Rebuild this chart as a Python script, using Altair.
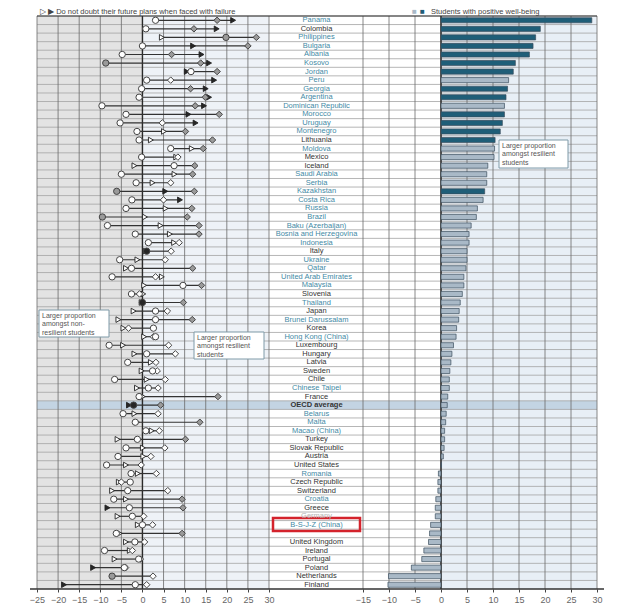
import altair as alt
import pandas as pd

countries = ["Panama", "Colombia", "Philippines", "Bulgaria", "Albania", "Kosovo", "Jordan", "Peru",
             "Georgia", "Argentina", "Dominican Republic", "Morocco", "Uruguay", "Montenegro",
             "Lithuania", "Moldova", "Mexico", "Iceland", "Saudi Arabia", "Serbia", "Kazakhstan",
             "Costa Rica", "Russia", "Brazil", "Baku (Azerbaijan)", "Bosnia and Herzegovina",
             "Indonesia", "Italy", "Ukraine", "Qatar", "United Arab Emirates", "Malaysia", "Slovenia",
             "Thailand", "Japan", "Brunei Darussalam", "Korea", "Hong Kong (China)", "Luxembourg",
             "Hungary", "Latvia", "Sweden", "Chile", "Chinese Taipei", "France", "OECD average",
             "Belarus", "Malta", "Macao (China)", "Turkey", "Slovak Republic", "Austria",
             "United States", "Romania", "Czech Republic", "Switzerland", "Croatia", "Greece",
             "Germany", "B-S-J-Z (China)", " ", "United Kingdom", "Ireland", "Portugal", "Poland",
             "Netherlands", "Finland"]

partner = ["Panama", "Philippines", "Bulgaria", "Albania", "Kosovo", "Jordan", "Peru", "Georgia",
           "Argentina", "Dominican Republic", "Morocco", "Uruguay", "Montenegro", "Moldova",
           "Saudi Arabia", "Serbia", "Kazakhstan", "Costa Rica", "Russia", "Brazil",
           "Baku (Azerbaijan)", "Bosnia and Herzegovina", "Indonesia", "Ukraine", "Qatar",
           "United Arab Emirates", "Malaysia", "Thailand", "Brunei Darussalam", "Hong Kong (China)",
           "Chinese Taipei", "Belarus", "Malta", "Macao (China)", "Romania", "Croatia",
           "B-S-J-Z (China)"]

circle_vals = [3.1, 0.8, 19.8, 0.0, -4.8, -8.7, 11.5, 1.0, -0.2, -0.8,
               -9.6, -3.9, -5.3, -1.3, -0.8, 6.7, -0.2, 7.5, -5.0, -1.5,
               -6.1, -2.5, -3.9, -9.5, -8.3, -1.7, 1.4, 1.0, -5.4, -2.6,
               -7.2, 9.6, -2.6, 0.0, 3.1, 3.1, 2.6, 3.1, -7.9, 1.0,
               -3.5, 2.4, -6.6, 1.4, -0.8, -2.1, -4.6, -1.7, 0.8, -1.2,
               -3.9, -5.8, -8.5, -2.7, -2.9, -3.5, -6.8, -3.1, -2.4, 0.0,
               -6.2, -1.8, -9.0, -0.9, -4.3, -7.2, -1.7]
circle_fill = ["w", "w", "g", "w", "w", "g", "w", "w", "w", "w",
               "w", "w", "w", "w", "w", "w", "w", "w", "w", "w",
               "g", "w", "w", "g", "w", "w", "w", "k", "w", "w",
               "w", "w", "w", "k", "w", "w", "w", "w", "w", "w",
               "w", "w", "w", "w", "w", "k", "w", "w", "w", "w",
               "w", "w", "w", "w", "w", "w", "w", "w", "w", "w",
               "w", "w", "w", "w", "w", "g", "w"]

diamond_vals = [17.7, 12.2, 27.0, 25.0, 6.9, 13.8, 17.7, 6.7, 11.4, 14.9,
                12.5, 18.2, 4.7, 10.2, 16.6, 14.4, 8.4, 12.4, 11.9, 6.7,
                12.3, 5.0, 11.7, 10.6, 13.4, 13.4, 8.7, 6.8, 5.4, 11.9,
                3.1, 14.0, -0.7, 9.7, 5.9, 11.8, -3.3, 2.6, 6.2, 7.8,
                3.2, 3.5, 5.4, 3.7, 17.9, 4.3, 3.7, 13.6, 4.0, 10.2,
                5.3, 2.0, -0.3, 3.3, -5.0, 6.0, 9.4, 9.6, 0.3, 2.4,
                9.4, 0.5, -2.4, -0.5, -4.0, 2.5, 1.0]
diamond_fill = ["g", "g", "g", "g", "g", "g", "g", "w", "g", "g",
                "g", "g", "w", "g", "g", "g", "w", "g", "g", "w",
                "g", "w", "g", "g", "g", "g", "w", "w", "w", "g",
                "w", "g", "w", "g", "w", "g", "w", "w", "w", "w",
                "w", "w", "w", "w", "g", "g", "w", "g", "w", "g",
                "w", "w", "w", "w", "w", "w", "g", "g", "w", "w",
                "g", "w", "w", "w", "w", "w", "w"]

tri_vals = [21.5, 17.6, 4.6, 12.0, 14.0, 15.8, 10.5, 17.0, 15.0, 15.8,
            14.6, 10.9, 12.6, 5.1, 2.0, 11.7, 8.0, -1.9, 7.6, 2.4,
            5.4, 8.9, 5.5, 0.6, 4.3, 6.5, 7.5, 0.8, -1.2, -3.9,
            4.6, 0.4, 0.2, -0.2, -2.1, -5.7, -4.5, 0.4, -4.6, -1.9,
            2.0, -0.2, 1.0, -1.3, 0.1, -3.2, -1.9, -1.3, 2.2, -5.9,
            0.1, 0.2, -3.9, -1.1, -5.6, -7.2, -3.9, -8.3, -5.9, -1.1,
            -5.4, -3.9, -3.0, -6.6, -11.7, -7.0, -18.6]
tri_fill = ["k", "k", "w", "k", "k", "k", "k", "k", "k", "k",
            "k", "k", "k", "w", "w", "w", "w", "w", "w", "w",
            "k", "k", "w", "w", "w", "w", "w", "w", "w", "w",
            "w", "w", "w", "w", "w", "w", "w", "w", "w", "w",
            "w", "w", "w", "w", "w", "k", "w", "w", "w", "w",
            "w", "w", "w", "w", "w", "w", "w", "k", "w", "w",
            "w", "w", "w", "w", "k", "w", "k"]

bar_vals = [29.0, 19.1, 18.2, 17.7, 17.0, 14.3, 13.9, 13.0, 12.8, 12.5,
            12.2, 12.2, 11.8, 11.4, 10.4, 10.3, 10.2, 9.0, 8.8, 8.8,
            8.4, 8.1, 7.0, 6.8, 5.8, 5.4, 5.4, 5.0, 5.0, 4.8,
            4.4, 4.4, 4.1, 3.7, 3.5, 3.4, 3.0, 2.9, 2.4, 2.1,
            1.9, 1.7, 1.6, 1.6, 1.3, 1.2, 1.0, 0.9, 0.7, 0.7,
            0.6, 0.45, 0.1, -0.5, -0.6, -0.6, -1.0, -1.1, -1.1, -2.0,
            -2.2, -2.4, -3.3, -3.7, -5.7, -10.1, -10.2]
bar_sig = ["dark"] * 7 + ["light", "dark", "dark", "light", "dark", "dark", "dark", "dark",
                          "light", "light", "light", "light", "light", "dark"] + ["light"] * 46

left_ticks = list(range(-25, 31, 5))
right_ticks = list(range(-15, 31, 5))

annotations_text = [
    ["Larger proportion", "amongst non-", "resilient students"],
    ["Larger proportion", "amongst resilient", "students"],
    ["Larger proportion", "amongst resilient", "students"],
]

# ---------------------------------------------------------------- build
df = pd.DataFrame({
    "country": countries, "circle": circle_vals, "cfill": circle_fill,
    "diamond": diamond_vals, "dfill": diamond_fill, "tri": tri_vals, "tfill": tri_fill,
    "bar": bar_vals, "bfill": bar_sig,
})
df["lo"] = df[["circle", "diamond", "tri"]].min(axis=1)
df["hi"] = df[["circle", "diamond", "tri"]].max(axis=1)

FONT = "Liberation Sans Narrow, Liberation Sans, Arial, sans-serif"
W, H = 560, 573
LABEL_X = 279

xL = alt.Scale(domain=[-25, 30], range=[0, 232], nice=False, zero=False)
xR = alt.Scale(domain=[-15, 30], range=[326, 560], nice=False, zero=False)

teal_js = "[" + ",".join("'%s'" % c for c in partner) + "]"
y_axis = alt.Axis(
    orient="left", offset=-LABEL_X, domain=False, ticks=False, grid=False, title=None,
    labelAlign="center", labelBaseline="middle", labelPadding=0, labelFontSize=7.5,
    labelFont=FONT, labelLimit=0, labelOverlap=False, zindex=1,
    labelColor={"expr": "datum.value == 'Germany' ? '#b3b3b3' : (indexof(" + teal_js +
                ", datum.value) >= 0 ? '#3f8aa5' : '#333333')"},
    labelFontWeight={"expr": "datum.value == 'OECD average' ? 'bold' : 'normal'"},
)
y_scale = alt.Scale(domain=countries, paddingInner=0, paddingOuter=0)


def Y(**kw):
    return alt.Y("country:N", scale=y_scale, axis=y_axis, **kw)


fill_scale = alt.Scale(domain=["w", "g", "k", "dark", "light"],
                       range=["#ffffff", "#9a9a9a", "#262626", "#1f5e78", "#a9b9c7"])

axis_common = dict(orient="bottom", grid=False, domain=False, ticks=True, tickSize=3,
                   tickColor="#444", labelFontSize=9, labelColor="#666", labelFont=FONT,
                   title=None, labelPadding=3, labelOverlap=False, labelFlush=False)

# backgrounds
bgL = alt.Chart(pd.DataFrame({"x": [-25, 0], "x2": [0, 30], "c": ["#e3e3e3", "#eef2f7"]})).mark_rect().encode(
    x=alt.X("x:Q", scale=xL, axis=alt.Axis(values=left_ticks, **axis_common)),
    x2="x2:Q", y=alt.value(0), y2=alt.value(H), color=alt.Color("c:N", scale=None))
bgR = alt.Chart(pd.DataFrame({"x": [0], "x2": [30], "c": ["#e8eff6"]})).mark_rect().encode(
    x=alt.X("x:Q", scale=xR, axis=alt.Axis(values=right_ticks, **axis_common)),
    x2="x2:Q", y=alt.value(0), y2=alt.value(H), color=alt.Color("c:N", scale=None))

oecd_band = alt.Chart(df[df.country == "OECD average"]).mark_rect(color="#c3d4e3").encode(
    y=Y(), x=alt.value(0), x2=alt.value(W))

row_lines = alt.Chart(df).mark_rule(color="#a3a3a3", strokeWidth=0.8).encode(
    y=Y(bandPosition=0), x=alt.value(0), x2=alt.value(W))

gridL = alt.Chart(pd.DataFrame({"v": left_ticks})).mark_rule(color="#6a6a6a", strokeWidth=0.8).encode(
    x=alt.X("v:Q", scale=xL, axis=None), y=alt.value(0), y2=alt.value(H))
gridR = alt.Chart(pd.DataFrame({"v": right_ticks})).mark_rule(color="#6a6a6a", strokeWidth=0.8).encode(
    x=alt.X("v:Q", scale=xR, axis=None), y=alt.value(0), y2=alt.value(H))
zeroL = alt.Chart(pd.DataFrame({"v": [0]})).mark_rule(color="#2a2a2a", strokeWidth=1.4).encode(
    x=alt.X("v:Q", scale=xL, axis=None), y=alt.value(0), y2=alt.value(H))
zeroR = alt.Chart(pd.DataFrame({"v": [0]})).mark_rule(color="#2a2a2a", strokeWidth=1.4).encode(
    x=alt.X("v:Q", scale=xR, axis=None), y=alt.value(0), y2=alt.value(H))

frame_top = alt.Chart(pd.DataFrame({"a": [0]})).mark_rule(color="#333", strokeWidth=1.2).encode(
    y=alt.value(0), x=alt.value(0), x2=alt.value(W))
frame_bottom = alt.Chart(pd.DataFrame({"a": [0]})).mark_rule(color="#333", strokeWidth=1.3).encode(
    y=alt.value(H), x=alt.value(-7), x2=alt.value(W + 7))

connect = alt.Chart(df).mark_rule(color="#333", strokeWidth=1.2).encode(
    y=Y(), x=alt.X("lo:Q", scale=xL, axis=None), x2="hi:Q")

tris = alt.Chart(df).mark_point(shape="triangle-right", filled=True, size=32, stroke="#222",
                                strokeWidth=0.9, opacity=1).encode(
    y=Y(), x=alt.X("tri:Q", scale=xL, axis=None),
    fill=alt.Fill("tfill:N", scale=fill_scale, legend=None))
diamonds = alt.Chart(df).mark_point(shape="diamond", filled=True, size=42, stroke="#444",
                                    strokeWidth=1, opacity=1).encode(
    y=Y(), x=alt.X("diamond:Q", scale=xL, axis=None),
    fill=alt.Fill("dfill:N", scale=fill_scale, legend=None))
circles = alt.Chart(df).mark_point(shape="circle", filled=True, size=40, stroke="#444",
                                   strokeWidth=1, opacity=1).encode(
    y=Y(), x=alt.X("circle:Q", scale=xL, axis=None),
    fill=alt.Fill("cfill:N", scale=fill_scale, legend=None))

bars = alt.Chart(df).mark_bar(height={"band": 0.6}, stroke="#3b4e5b", strokeWidth=0.7).encode(
    y=Y(), x=alt.X("bar:Q", scale=xR, axis=None), x2=alt.datum(0),
    fill=alt.Fill("bfill:N", scale=fill_scale, legend=None))

# annotation boxes
boxes = [(2, 294, 72, 321), (157, 316, 227, 343), (462, 124, 531, 152)]
ann_layers = []
for (x0, y0, x1, y1), lines in zip(boxes, annotations_text):
    one = pd.DataFrame({"a": [0]})
    ann_layers.append(alt.Chart(one).mark_rect(fill="white", stroke="#7f9aa8", strokeWidth=1).encode(
        x=alt.value(x0), x2=alt.value(x1), y=alt.value(y0), y2=alt.value(y1)))
    ann_layers.append(alt.Chart(one).mark_text(text=lines, align="left", baseline="top", fontSize=7,
                                               lineHeight=8.3, color="#555", font=FONT).encode(
        x=alt.value(x0 + 3), y=alt.value(y0 + 2)))

red_box = alt.Chart(pd.DataFrame({"a": [0]})).mark_rect(fill="white", fillOpacity=0, stroke="#d4232c",
                                                        strokeWidth=2.5).encode(
    x=alt.value(236), x2=alt.value(323), y=alt.value(502), y2=alt.value(515))

LEG_Y = -4
legend_left = alt.Chart(pd.DataFrame({"a": [0]})).mark_text(
    text="\u25b7 \u25b6  Do not doubt their future plans when faced with failure", align="left",
    baseline="middle", fontSize=7.5, color="#444", font=FONT).encode(x=alt.value(3), y=alt.value(LEG_Y))
legend_sq1 = alt.Chart(pd.DataFrame({"a": [0]})).mark_text(
    text="\u25a0", align="left", baseline="middle", fontSize=8, color="#a9b9c7").encode(
    x=alt.value(375), y=alt.value(LEG_Y))
legend_sq2 = alt.Chart(pd.DataFrame({"a": [0]})).mark_text(
    text="\u25a0", align="left", baseline="middle", fontSize=8, color="#1f5e78").encode(
    x=alt.value(383), y=alt.value(LEG_Y))
legend_right = alt.Chart(pd.DataFrame({"a": [0]})).mark_text(
    text="Students with positive well-being", align="left", baseline="middle", fontSize=7.5,
    color="#444", font=FONT).encode(x=alt.value(394), y=alt.value(LEG_Y))

chart = alt.layer(
    bgL, bgR, oecd_band, row_lines, gridL, gridR, zeroL, zeroR, frame_top, frame_bottom,
    connect, tris, diamonds, circles, bars, *ann_layers, red_box,
    legend_left, legend_sq1, legend_sq2, legend_right,
).resolve_scale(x="independent").properties(
    width=W, height=H,
    autosize=alt.AutoSizeParams(type="none"),
    padding={"left": 29, "top": 8, "right": 25, "bottom": 17},
).configure_view(stroke=None)

chart.save("out.html", embed_options={"renderer": "svg", "actions": False})
